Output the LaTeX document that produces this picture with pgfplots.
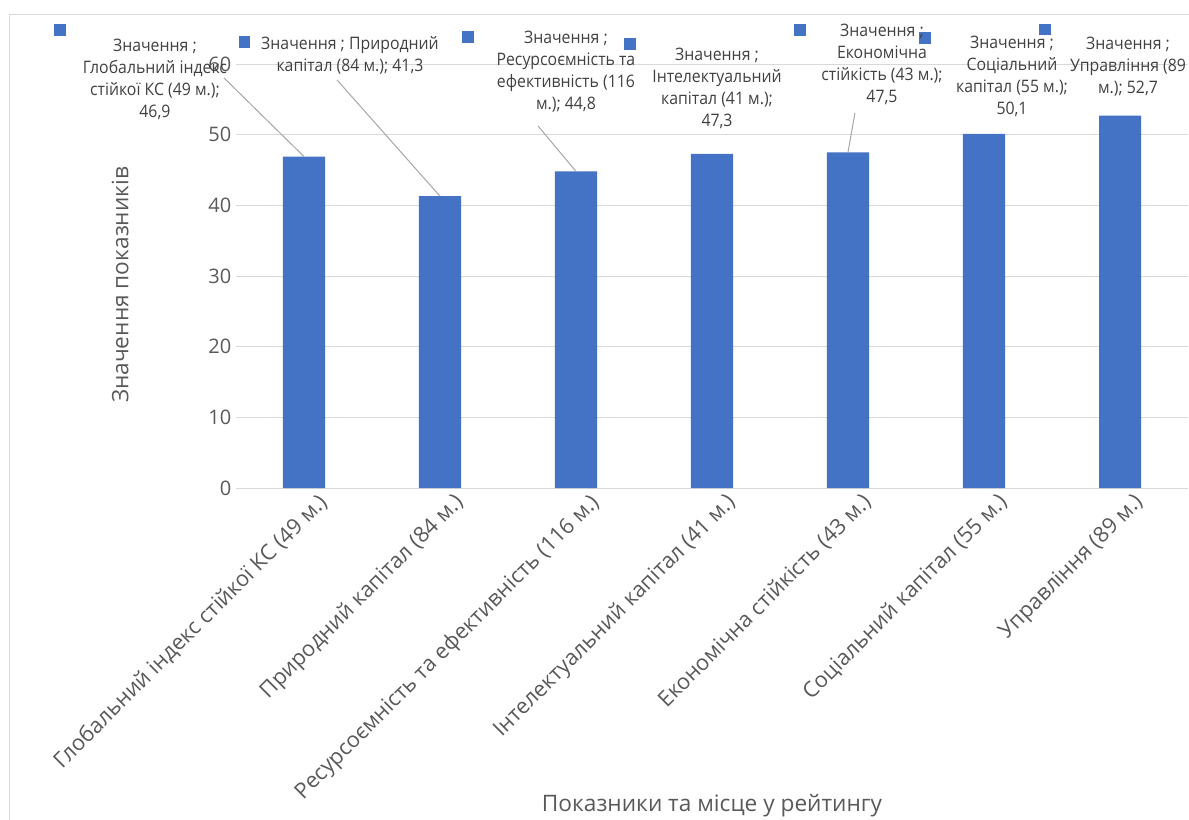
\documentclass[border=0pt]{standalone}
\usepackage{fontspec}
\setmainfont{Open Sans}
\newfontfamily\lblfont{Open Sans}[FakeStretch=0.92]
\usepackage{pgfplots}
\pgfplotsset{compat=1.18}
\definecolor{barblue}{HTML}{4472C4}
\definecolor{txt}{HTML}{595959}
\definecolor{lbl}{HTML}{404040}
\definecolor{gridc}{HTML}{D9D9D9}
\definecolor{lead}{HTML}{A6A6A6}
\tikzset{
  dl/.style={font=\lblfont\fontsize{12.9}{16.5}\selectfont, align=center, text=lbl, inner sep=0pt},
  lkey/.style={fill=barblue, minimum size=8.5pt, inner sep=0pt},
}
\begin{document}
\begin{tikzpicture}
\useasboundingbox (0,0) rectangle (891.75pt,-614.25pt);
\draw[gridc, line width=0.75pt] (6.75pt,-620pt) -- (6.75pt,-10.5pt) -- (900pt,-10.5pt);
\begin{axis}[
  at={(177pt,-366pt)}, anchor=south west,
  width=714pt, height=318pt, scale only axis,
  xmin=-0.5, xmax=6.5, ymin=0, ymax=60,
  ytick={0,10,...,60},
  xtick={0,...,6},
  xticklabels={Глобальний індекс стійкої КС (49 м.),Природний капітал (84 м.),Ресурсоємність та ефективність (116 м.),Інтелектуальний капітал (41 м.),Економічна стійкість (43 м.),Соціальний капітал (55 м.),Управління (89 м.)},
  xticklabel style={rotate=45, anchor=north east, xshift=8pt, yshift=-5pt, font=\fontsize{16.3}{19}\selectfont, text=txt},
  yticklabel style={font=\fontsize{15}{18}\selectfont, text=txt},
  /pgf/number format/assume math mode=true,
  axis line style={draw=none},
  tick style={draw=none},
  ymajorgrids, grid style={gridc, line width=0.75pt},
  clip=false,
  xlabel={Показники та місце у рейтингу},
  ylabel={Значення показників},
  xlabel style={at={(axis description cs:0.5,-0.748)}, anchor=center, font=\fontsize{17}{20}\selectfont, text=txt},
  ylabel style={at={(axis description cs:-0.1218,0.479)}, anchor=center, font=\fontsize{17}{20}\selectfont, text=txt},
]
\addplot[ybar, bar width=31.5pt, fill=barblue, draw=none] coordinates {(0,46.9) (1,41.3) (2,44.8) (3,47.3) (4,47.5) (5,50.1) (6,52.7)};

% leader lines
\draw[lead, line width=0.75pt] (axis cs:-0.588,58.02) -- (axis cs:0,46.9);
\draw[lead, line width=0.75pt] (axis cs:0.243,57.74) -- (axis cs:1,41.3);
\draw[lead, line width=0.75pt] (axis cs:1.721,51.23) -- (axis cs:2,44.8);
\draw[lead, line width=0.75pt] (axis cs:4.051,53.07) -- (axis cs:4,47.5);

% legend keys
\node[lkey] at (axis cs:-1.794,64.81) {};
\node[lkey] at (axis cs:-0.4375,63.11) {};
\node[lkey] at (axis cs:1.206,63.82) {};
\node[lkey] at (axis cs:2.397,62.83) {};
\node[lkey] at (axis cs:3.647,64.81) {};
\node[lkey] at (axis cs:4.566,63.68) {};
\node[lkey] at (axis cs:5.449,64.88) {};

\node[dl] at (axis cs:-1.096,57.81) {Значення ;\\Глобальний індекс\\стійкої КС (49 м.);\\46,9};
\node[dl] at (axis cs:0.338,61.27) {Значення ; Природний\\капітал (84 м.); 41,3};
\node[dl] at (axis cs:1.926,58.87) {Значення ;\\Ресурсоємність та\\ефективність (116\\м.); 44,8};
\node[dl] at (axis cs:3.037,56.53) {Значення ;\\Інтелектуальний\\капітал (41 м.);\\47,3};
\node[dl] at (axis cs:4.25,59.93) {Значення ;\\Економічна\\стійкість (43 м.);\\47,5};
\node[dl] at (axis cs:5.206,58.23) {Значення ;\\Соціальний\\капітал (55 м.);\\50,1};
\node[dl] at (axis cs:6.059,59.65) {Значення ;\\Управління (89\\м.); 52,7};
\end{axis}
\end{tikzpicture}
\end{document}
